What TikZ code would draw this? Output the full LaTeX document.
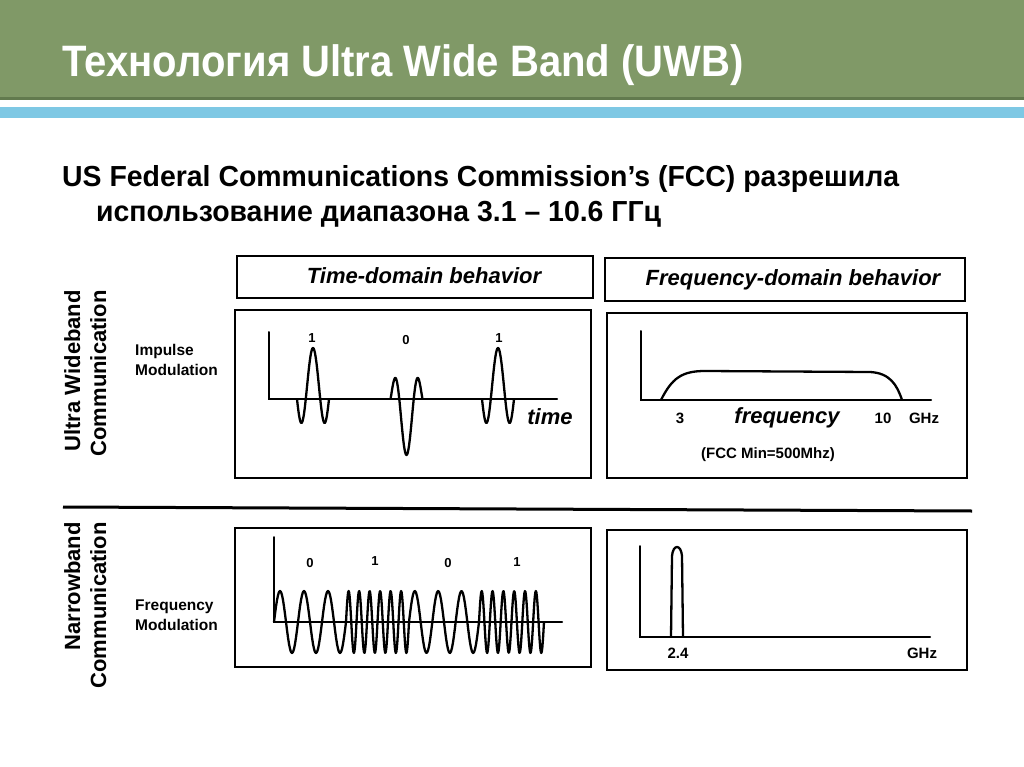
\documentclass[tikz,border=0pt]{standalone}
\usepackage{fontspec}
\setmainfont{Liberation Sans}
\newfontfamily\titlefont[FakeStretch=0.91]{Liberation Sans}
\newfontfamily\subfont[FakeStretch=0.98]{Liberation Sans}
\usetikzlibrary{positioning}
\definecolor{bargreen}{RGB}{128,153,103}
\definecolor{bardark}{RGB}{98,122,78}
\definecolor{barblue}{RGB}{126,200,228}
\tikzset{
  panel/.style={draw=black, line width=2.4pt},
  headbox/.style={draw=black, line width=2.4pt},
  axis/.style={line width=2pt, line cap=round},
  wave/.style={line width=2.3pt, line join=round},
  bit/.style={font=\bfseries\fontsize{13}{13}\selectfont, inner sep=0pt},
  tick/.style={font=\bfseries\fontsize{15}{15}\selectfont, inner sep=0pt},
  axname/.style={font=\bfseries\itshape\fontsize{22}{22}\selectfont, inner sep=0pt},
  headtxt/.style={font=\bfseries\itshape\fontsize{22}{22}\selectfont, inner sep=0pt},
  modlbl/.style={font=\bfseries\fontsize{15.5}{20}\selectfont, align=left, inner sep=0pt, anchor=north west},
  rowlbl/.style={font=\bfseries\fontsize{22}{26}\selectfont, align=right, rotate=90, inner sep=0pt, anchor=north east},
}
% one impulse: centre x, height (negative = inverted), lobe width
\newcommand\uwbpulse[3]{%
  \draw[wave] plot[domain=-270:270, samples=90, smooth]
    ({#1 + 16*(\x/270)*(1.4-0.4*(\x/270)^2)}, {399 - #2*cos(\x)*exp(-(\x/#3)^2)});}

\begin{document}
\begin{tikzpicture}[x=1pt, y=-1pt]
\useasboundingbox[fill=white] (0,0) rectangle (1024,767);

% ── slide header ────────────────────────────────────────────
\fill[bargreen] (0,0) rectangle (1024,100);
\fill[bardark] (0,97) rectangle (1024,100);
\fill[barblue] (0,107) rectangle (1024,118);
\node[anchor=base west, inner sep=0pt, text=white,
      font=\titlefont\bfseries\fontsize{44}{44}\selectfont] (title) at (62,77)
  {Технология Ultra Wide Band (UWB)};

\node[anchor=base west, inner sep=0pt,
      font=\subfont\bfseries\fontsize{29}{29}\selectfont] (sub1) at (62,187)
  {US Federal Communications Commission’s (FCC) разрешила};
\node[anchor=base west, inner sep=0pt,
      font=\subfont\bfseries\fontsize{29}{29}\selectfont] (sub2) at (96,222)
  {использование диапазона 3.1 – 10.6 ГГц};

% ── column headers ──────────────────────────────────────────
\draw[headbox] (237,256) rectangle (593,298);
\node[headtxt] (thead) at (424,276) {Time-domain behavior};
\draw[headbox] (605,258) rectangle (965,301);
\node[headtxt] (fhead) at (793,280) {Frequency-domain behavior};

% ── row labels ──────────────────────────────────────────────
\node[rowlbl] (uwblbl) at (64,290) {Ultra Wideband\\Communication};
\node[rowlbl] (nblbl) at (64,522) {Narrowband\\Communication};
\node[modlbl] (imod) at (135,344) {Impulse\\Modulation};
\node[modlbl] (fmod) at (135,600) {Frequency\\Modulation};

\draw[line width=3pt] (63,507) -- (972,511);

% ── UWB, time domain ────────────────────────────────────────
\draw[panel] (235,310) rectangle (591,478);
\draw[axis] (269,332) -- (269,399) -- (557,399);
\uwbpulse{313}{51}{191}
\uwbpulse{406.5}{-56}{164}
\uwbpulse{498}{51}{191}
\node[bit] (b1) at (312,338) {1};
\node[bit] (b2) at (406,340) {0};
\node[bit] (b3) at (499,338) {1};
\node[axname] (tlbl) at (550,417) {time};

% ── UWB, frequency domain ───────────────────────────────────
\draw[panel] (607,313) rectangle (967,478);
\draw[axis] (641,331) -- (641,400) -- (931,400);
\draw[wave] (661,400) .. controls (672,378) and (682,371) .. (705,371)
  -- (870,372) .. controls (890,373) and (897,385) .. (902,400);
\node[tick] (f3) at (680,418) {3};
\node[axname] (flbl) at (787,418) {frequency};
\node[tick] (f10) at (883,418) {10};
\node[tick] (ghz1) at (924,418) {GHz};
\node[tick] (fcc) at (768,455) {(FCC Min=500Mhz)};

% ── narrowband, time domain ─────────────────────────────────
\draw[panel] (235,528) rectangle (591,667);
\draw[axis] (274,537) -- (274,622) -- (562,622);
\draw[wave] plot[domain=0:72, samples=73] ({274+\x}, {622-31*sin(\x/24*360)})
  -- plot[domain=0:63, samples=120] ({346+\x}, {622-31*sin(\x/10.5*360)})
  -- plot[domain=0:70, samples=71] ({409+\x}, {622-31*sin(\x/23.33*360)})
  -- plot[domain=0:65, samples=120] ({479+\x}, {622-31*sin(\x/10.83*360)});
\node[bit] (n1) at (310,563) {0};
\node[bit] (n2) at (375,561) {1};
\node[bit] (n3) at (448,563) {0};
\node[bit] (n4) at (517,562) {1};

% ── narrowband, frequency domain ────────────────────────────
\draw[panel] (607,530) rectangle (967,670);
\draw[axis] (640,546) -- (640,637) -- (930,637);
\draw[wave] (671,637) -- (672,556) .. controls (673,544) and (681,544) .. (682,556)
  -- (683,637);
\node[tick] (f24) at (678,653) {2.4};
\node[tick] (ghz2) at (922,653) {GHz};
\end{tikzpicture}
\end{document}
